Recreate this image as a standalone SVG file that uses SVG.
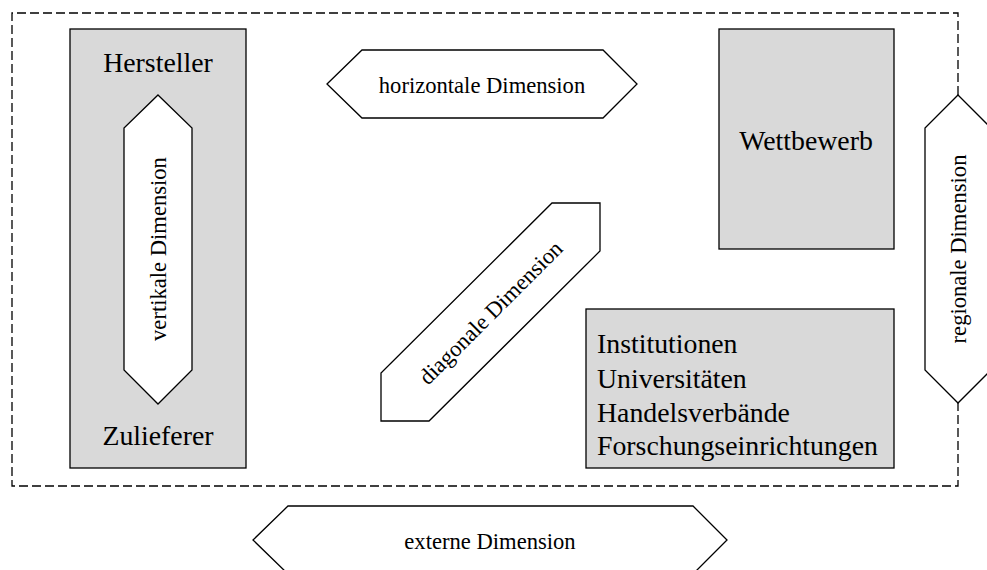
<svg xmlns="http://www.w3.org/2000/svg" width="987" height="570" viewBox="0 0 987 570">
<style>
  .box { fill: #d9d9d9; stroke: #000; stroke-width: 1.3; }
  .hex { fill: #fff; stroke: #000; stroke-width: 1.3; stroke-linejoin: miter; }
  .frame { fill: none; stroke: #000; stroke-width: 1.3; stroke-dasharray: 9 4; }
  .big { font-family: "Liberation Serif", "Times New Roman", serif; font-size: 27.8px; fill: #000; }
  .lbl { font-family: "Liberation Serif", "Times New Roman", serif; font-size: 22.6px; fill: #000; text-anchor: middle; }
</style>
<rect width="987" height="570" fill="#fff"/>
<g id="connectors">
  <path class="frame" d="M958 95 L958 13 L12 13 L12 486 L958 486 L958 403"/>
</g>
<g id="hersteller">
  <rect class="box" x="70" y="29" width="176" height="439"/>
  <text class="big" x="158" y="72" text-anchor="middle">Hersteller</text>
  <text class="big" x="158" y="445" text-anchor="middle">Zulieferer</text>
</g>
<g id="vertikale">
  <polygon class="hex" points="158,95 192,128 192,370 158,404 124,370 124,128"/>
  <text class="lbl" transform="translate(166,249) rotate(-90)">vertikale Dimension</text>
</g>
<g id="horizontale">
  <polygon class="hex" points="327,84 362,50 603,50 637,84 603,118 362,118"/>
  <text class="lbl" x="482" y="93">horizontale Dimension</text>
</g>
<g id="wettbewerb">
  <rect class="box" x="719" y="29" width="175" height="220"/>
  <text class="big" x="806" y="150" text-anchor="middle">Wettbewerb</text>
</g>
<g id="diagonale">
  <polygon class="hex" points="552,203 600,203 600,251 429,421 381,421 381,373"/>
  <text class="lbl" transform="translate(496,318) rotate(-45)">diagonale Dimension</text>
</g>
<g id="institutionen">
  <rect class="box" x="586" y="309" width="308" height="159"/>
  <text class="big" x="597" y="353">Institutionen</text>
  <text class="big" x="597" y="388">Universitäten</text>
  <text class="big" x="597" y="422">Handelsverbände</text>
  <text class="big" x="597" y="455">Forschungseinrichtungen</text>
</g>
<g id="regionale">
  <polygon class="hex" points="958,95 991,128 991,370 958,403 925,370 925,128"/>
  <text class="lbl" transform="translate(966,249) rotate(-90)">regionale Dimension</text>
</g>
<g id="externe">
  <polygon class="hex" points="253,540 288,506 693,506 727,540 693,574 288,574"/>
  <text class="lbl" x="490" y="549">externe Dimension</text>
</g>
</svg>
